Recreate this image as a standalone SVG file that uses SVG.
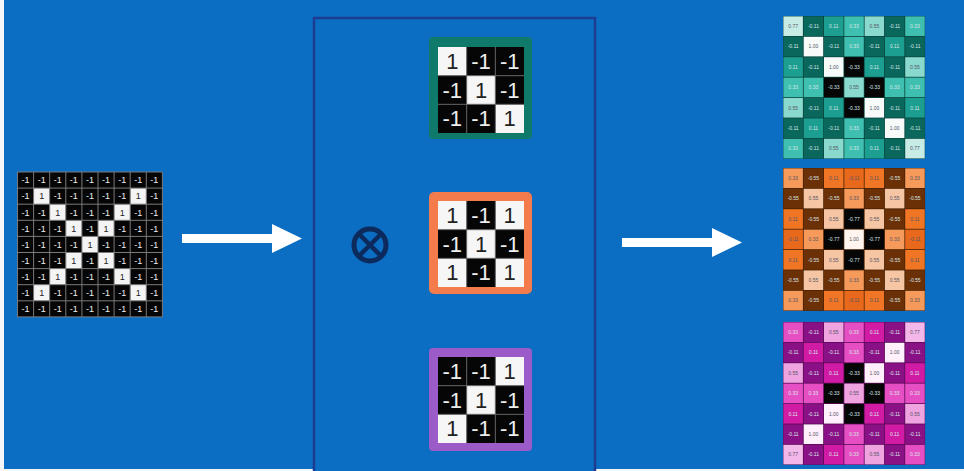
<svg xmlns="http://www.w3.org/2000/svg" width="964" height="471" viewBox="0 0 964 471">
<style>
.ig text{font-family:"Liberation Sans",Arial,sans-serif;font-size:9px;text-anchor:middle}
.w{fill:#eeeeee}.k{fill:#222}
.flt text{font-family:"Liberation Sans",Arial,sans-serif;font-size:22px;text-anchor:middle}
.fm text{font-family:"Liberation Sans",Arial,sans-serif;font-size:5px;text-anchor:middle}
.dt{fill:#556}.lt{fill:#d8e8e8}
.a1{fill:#f6fbfa}.a77{fill:#c7ece6}.a55{fill:#8ad9ce}.a33{fill:#3fbfb0}.a11{fill:#1c9e90}.am11{fill:#0a675c}.am33{fill:#060606}
.b1{fill:#fff5ee}.b55{fill:#f6c6a4}.b33{fill:#f59a5b}.b11{fill:#f07524}.bm11{fill:#e9691c}.bm55{fill:#6b3006}.bm77{fill:#060606}
.c1{fill:#fff0fb}.c77{fill:#f4b7ea}.c55{fill:#efa4e0}.c33{fill:#e64fc3}.c11{fill:#d11ba5}.cm11{fill:#8a1085}.cm33{fill:#060606}
.arrow{fill:#ffffff}
</style>
<rect x="0" y="0" width="964" height="471" fill="#f4f6f8"/>
<rect x="4" y="0" width="960" height="469" fill="#0b6ec2"/>
<rect id="panel" x="314" y="18" width="281" height="470" fill="#0b6ec2" stroke="#1d3d92" stroke-width="2.5"/>

<g id="input" class="ig" transform="translate(17.5,172)">
<rect x="0" y="0" width="144.9" height="144.9" fill="#060606"/>
<g fill="#f4f4f4">
<rect x="16.1" y="16.1" width="16.1" height="16.1"/><rect x="112.7" y="16.1" width="16.1" height="16.1"/>
<rect x="32.2" y="32.2" width="16.1" height="16.1"/><rect x="96.6" y="32.2" width="16.1" height="16.1"/>
<rect x="48.3" y="48.3" width="16.1" height="16.1"/><rect x="80.5" y="48.3" width="16.1" height="16.1"/>
<rect x="64.4" y="64.4" width="16.1" height="16.1"/>
<rect x="48.3" y="80.5" width="16.1" height="16.1"/><rect x="80.5" y="80.5" width="16.1" height="16.1"/>
<rect x="32.2" y="96.6" width="16.1" height="16.1"/><rect x="96.6" y="96.6" width="16.1" height="16.1"/>
<rect x="16.1" y="112.7" width="16.1" height="16.1"/><rect x="112.7" y="112.7" width="16.1" height="16.1"/>
</g>
<path d="M0 0V144.9M16.1 0V144.9M32.2 0V144.9M48.3 0V144.9M64.4 0V144.9M80.5 0V144.9M96.6 0V144.9M112.7 0V144.9M128.8 0V144.9M144.9 0V144.9M0 0H144.9M0 16.1H144.9M0 32.2H144.9M0 48.3H144.9M0 64.4H144.9M0 80.5H144.9M0 96.6H144.9M0 112.7H144.9M0 128.8H144.9M0 144.9H144.9" stroke="#7a7a7a" stroke-width="1" fill="none"/>
<text y="11.3"><tspan class="w" x="8.05">-1</tspan><tspan class="w" x="24.15">-1</tspan><tspan class="w" x="40.25">-1</tspan><tspan class="w" x="56.35">-1</tspan><tspan class="w" x="72.45">-1</tspan><tspan class="w" x="88.55">-1</tspan><tspan class="w" x="104.65">-1</tspan><tspan class="w" x="120.75">-1</tspan><tspan class="w" x="136.85">-1</tspan></text>
<text y="27.4"><tspan class="w" x="8.05">-1</tspan><tspan class="k" x="24.15">1</tspan><tspan class="w" x="40.25">-1</tspan><tspan class="w" x="56.35">-1</tspan><tspan class="w" x="72.45">-1</tspan><tspan class="w" x="88.55">-1</tspan><tspan class="w" x="104.65">-1</tspan><tspan class="k" x="120.75">1</tspan><tspan class="w" x="136.85">-1</tspan></text>
<text y="43.5"><tspan class="w" x="8.05">-1</tspan><tspan class="w" x="24.15">-1</tspan><tspan class="k" x="40.25">1</tspan><tspan class="w" x="56.35">-1</tspan><tspan class="w" x="72.45">-1</tspan><tspan class="w" x="88.55">-1</tspan><tspan class="k" x="104.65">1</tspan><tspan class="w" x="120.75">-1</tspan><tspan class="w" x="136.85">-1</tspan></text>
<text y="59.6"><tspan class="w" x="8.05">-1</tspan><tspan class="w" x="24.15">-1</tspan><tspan class="w" x="40.25">-1</tspan><tspan class="k" x="56.35">1</tspan><tspan class="w" x="72.45">-1</tspan><tspan class="k" x="88.55">1</tspan><tspan class="w" x="104.65">-1</tspan><tspan class="w" x="120.75">-1</tspan><tspan class="w" x="136.85">-1</tspan></text>
<text y="75.7"><tspan class="w" x="8.05">-1</tspan><tspan class="w" x="24.15">-1</tspan><tspan class="w" x="40.25">-1</tspan><tspan class="w" x="56.35">-1</tspan><tspan class="k" x="72.45">1</tspan><tspan class="w" x="88.55">-1</tspan><tspan class="w" x="104.65">-1</tspan><tspan class="w" x="120.75">-1</tspan><tspan class="w" x="136.85">-1</tspan></text>
<text y="91.8"><tspan class="w" x="8.05">-1</tspan><tspan class="w" x="24.15">-1</tspan><tspan class="w" x="40.25">-1</tspan><tspan class="k" x="56.35">1</tspan><tspan class="w" x="72.45">-1</tspan><tspan class="k" x="88.55">1</tspan><tspan class="w" x="104.65">-1</tspan><tspan class="w" x="120.75">-1</tspan><tspan class="w" x="136.85">-1</tspan></text>
<text y="107.9"><tspan class="w" x="8.05">-1</tspan><tspan class="w" x="24.15">-1</tspan><tspan class="k" x="40.25">1</tspan><tspan class="w" x="56.35">-1</tspan><tspan class="w" x="72.45">-1</tspan><tspan class="w" x="88.55">-1</tspan><tspan class="k" x="104.65">1</tspan><tspan class="w" x="120.75">-1</tspan><tspan class="w" x="136.85">-1</tspan></text>
<text y="124"><tspan class="w" x="8.05">-1</tspan><tspan class="k" x="24.15">1</tspan><tspan class="w" x="40.25">-1</tspan><tspan class="w" x="56.35">-1</tspan><tspan class="w" x="72.45">-1</tspan><tspan class="w" x="88.55">-1</tspan><tspan class="w" x="104.65">-1</tspan><tspan class="k" x="120.75">1</tspan><tspan class="w" x="136.85">-1</tspan></text>
<text y="140.1"><tspan class="w" x="8.05">-1</tspan><tspan class="w" x="24.15">-1</tspan><tspan class="w" x="40.25">-1</tspan><tspan class="w" x="56.35">-1</tspan><tspan class="w" x="72.45">-1</tspan><tspan class="w" x="88.55">-1</tspan><tspan class="w" x="104.65">-1</tspan><tspan class="w" x="120.75">-1</tspan><tspan class="w" x="136.85">-1</tspan></text>
</g>

<g id="connectors">
<polygon class="arrow" points="182,234 272,234 272,224 302,238.5 272,253 272,243 182,243"/>
<polygon class="arrow" points="622,238 712,238 712,228 742,242.5 712,257 712,247 622,247"/>
</g>

<g id="convolve-op">
<circle cx="370" cy="245" r="16" fill="none" stroke="#0c2a5c" stroke-width="5"/>
<path d="M359 234L381 256M381 234L359 256" stroke="#0c2a5c" stroke-width="4.5"/>
</g>

<g id="filter-diag" class="flt">
<rect x="429" y="37" width="103" height="102" rx="4" fill="#0f7a6a"/>
<rect x="438" y="47" width="86" height="86" fill="#060606"/>
<rect x="438" y="47" width="28.67" height="28.67" fill="#f6f6f6"/>
<rect x="466.67" y="75.67" width="28.67" height="28.67" fill="#f6f6f6"/>
<rect x="495.33" y="104.33" width="28.67" height="28.67" fill="#f6f6f6"/>
<path d="M466.67 47V133M495.33 47V133M438 75.67H524M438 104.33H524" stroke="#666" stroke-width="1"/>
<text y="69"><tspan class="k" x="452.3">1</tspan><tspan class="w" x="481">-1</tspan><tspan class="w" x="509.7">-1</tspan></text>
<text y="97.7"><tspan class="w" x="452.3">-1</tspan><tspan class="k" x="481">1</tspan><tspan class="w" x="509.7">-1</tspan></text>
<text y="126.4"><tspan class="w" x="452.3">-1</tspan><tspan class="w" x="481">-1</tspan><tspan class="k" x="509.7">1</tspan></text>
</g>

<g id="filter-x" class="flt">
<rect x="429" y="192" width="103" height="102" rx="5" fill="#f37b4c"/>
<rect x="438" y="201" width="86" height="86" fill="#f6f6f6"/>
<rect x="466.67" y="201" width="28.67" height="28.67" fill="#060606"/>
<rect x="438" y="229.67" width="28.67" height="28.67" fill="#060606"/>
<rect x="495.33" y="229.67" width="28.67" height="28.67" fill="#060606"/>
<rect x="466.67" y="258.33" width="28.67" height="28.67" fill="#060606"/>
<path d="M466.67 201V287M495.33 201V287M438 229.67H524M438 258.33H524" stroke="#666" stroke-width="1"/>
<text y="223"><tspan class="k" x="452.3">1</tspan><tspan class="w" x="481">-1</tspan><tspan class="k" x="509.7">1</tspan></text>
<text y="251.7"><tspan class="w" x="452.3">-1</tspan><tspan class="k" x="481">1</tspan><tspan class="w" x="509.7">-1</tspan></text>
<text y="280.4"><tspan class="k" x="452.3">1</tspan><tspan class="w" x="481">-1</tspan><tspan class="k" x="509.7">1</tspan></text>
</g>

<g id="filter-anti" class="flt">
<rect x="429" y="348" width="103" height="103" rx="4" fill="#9b5cc9"/>
<rect x="438" y="357" width="86" height="86" fill="#060606"/>
<rect x="495.33" y="357" width="28.67" height="28.67" fill="#f6f6f6"/>
<rect x="466.67" y="385.67" width="28.67" height="28.67" fill="#f6f6f6"/>
<rect x="438" y="414.33" width="28.67" height="28.67" fill="#f6f6f6"/>
<path d="M466.67 357V443M495.33 357V443M438 385.67H524M438 414.33H524" stroke="#666" stroke-width="1"/>
<text y="379"><tspan class="w" x="452.3">-1</tspan><tspan class="w" x="481">-1</tspan><tspan class="k" x="509.7">1</tspan></text>
<text y="407.7"><tspan class="w" x="452.3">-1</tspan><tspan class="k" x="481">1</tspan><tspan class="w" x="509.7">-1</tspan></text>
<text y="436.4"><tspan class="k" x="452.3">1</tspan><tspan class="w" x="481">-1</tspan><tspan class="w" x="509.7">-1</tspan></text>
</g>

<g id="map-diag" class="fm" transform="translate(783,16)">
<rect x="0" y="0" width="142.1" height="142.8" fill="#08463f"/>
<g transform="translate(0.4,0.4)">
<rect class="a77" x="0" y="0" width="19.5" height="19.6"/><rect class="am11" x="20.3" y="0" width="19.5" height="19.6"/><rect class="a11" x="40.6" y="0" width="19.5" height="19.6"/><rect class="a33" x="60.9" y="0" width="19.5" height="19.6"/><rect class="a55" x="81.2" y="0" width="19.5" height="19.6"/><rect class="am11" x="101.5" y="0" width="19.5" height="19.6"/><rect class="a33" x="121.8" y="0" width="19.5" height="19.6"/>
<rect class="am11" x="0" y="20.4" width="19.5" height="19.6"/><rect class="a1" x="20.3" y="20.4" width="19.5" height="19.6"/><rect class="am11" x="40.6" y="20.4" width="19.5" height="19.6"/><rect class="a33" x="60.9" y="20.4" width="19.5" height="19.6"/><rect class="am11" x="81.2" y="20.4" width="19.5" height="19.6"/><rect class="a11" x="101.5" y="20.4" width="19.5" height="19.6"/><rect class="am11" x="121.8" y="20.4" width="19.5" height="19.6"/>
<rect class="a11" x="0" y="40.8" width="19.5" height="19.6"/><rect class="am11" x="20.3" y="40.8" width="19.5" height="19.6"/><rect class="a1" x="40.6" y="40.8" width="19.5" height="19.6"/><rect class="am33" x="60.9" y="40.8" width="19.5" height="19.6"/><rect class="a11" x="81.2" y="40.8" width="19.5" height="19.6"/><rect class="am11" x="101.5" y="40.8" width="19.5" height="19.6"/><rect class="a55" x="121.8" y="40.8" width="19.5" height="19.6"/>
<rect class="a33" x="0" y="61.2" width="19.5" height="19.6"/><rect class="a33" x="20.3" y="61.2" width="19.5" height="19.6"/><rect class="am33" x="40.6" y="61.2" width="19.5" height="19.6"/><rect class="a55" x="60.9" y="61.2" width="19.5" height="19.6"/><rect class="am33" x="81.2" y="61.2" width="19.5" height="19.6"/><rect class="a33" x="101.5" y="61.2" width="19.5" height="19.6"/><rect class="a33" x="121.8" y="61.2" width="19.5" height="19.6"/>
<rect class="a55" x="0" y="81.6" width="19.5" height="19.6"/><rect class="am11" x="20.3" y="81.6" width="19.5" height="19.6"/><rect class="a11" x="40.6" y="81.6" width="19.5" height="19.6"/><rect class="am33" x="60.9" y="81.6" width="19.5" height="19.6"/><rect class="a1" x="81.2" y="81.6" width="19.5" height="19.6"/><rect class="am11" x="101.5" y="81.6" width="19.5" height="19.6"/><rect class="a11" x="121.8" y="81.6" width="19.5" height="19.6"/>
<rect class="am11" x="0" y="102" width="19.5" height="19.6"/><rect class="a11" x="20.3" y="102" width="19.5" height="19.6"/><rect class="am11" x="40.6" y="102" width="19.5" height="19.6"/><rect class="a33" x="60.9" y="102" width="19.5" height="19.6"/><rect class="am11" x="81.2" y="102" width="19.5" height="19.6"/><rect class="a1" x="101.5" y="102" width="19.5" height="19.6"/><rect class="am11" x="121.8" y="102" width="19.5" height="19.6"/>
<rect class="a33" x="0" y="122.4" width="19.5" height="19.6"/><rect class="am11" x="20.3" y="122.4" width="19.5" height="19.6"/><rect class="a55" x="40.6" y="122.4" width="19.5" height="19.6"/><rect class="a33" x="60.9" y="122.4" width="19.5" height="19.6"/><rect class="a11" x="81.2" y="122.4" width="19.5" height="19.6"/><rect class="am11" x="101.5" y="122.4" width="19.5" height="19.6"/><rect class="a77" x="121.8" y="122.4" width="19.5" height="19.6"/>
</g>
<text y="12"><tspan class="dt" x="10.15">0.77</tspan><tspan class="lt" x="30.45">-0.11</tspan><tspan class="lt" x="50.75">0.11</tspan><tspan class="lt" x="71.05">0.33</tspan><tspan class="dt" x="91.35">0.55</tspan><tspan class="lt" x="111.65">-0.11</tspan><tspan class="lt" x="131.95">0.33</tspan></text>
<text y="32.4"><tspan class="lt" x="10.15">-0.11</tspan><tspan class="dt" x="30.45">1.00</tspan><tspan class="lt" x="50.75">-0.11</tspan><tspan class="lt" x="71.05">0.33</tspan><tspan class="lt" x="91.35">-0.11</tspan><tspan class="lt" x="111.65">0.11</tspan><tspan class="lt" x="131.95">-0.11</tspan></text>
<text y="52.8"><tspan class="lt" x="10.15">0.11</tspan><tspan class="lt" x="30.45">-0.11</tspan><tspan class="dt" x="50.75">1.00</tspan><tspan class="lt" x="71.05">-0.33</tspan><tspan class="lt" x="91.35">0.11</tspan><tspan class="lt" x="111.65">-0.11</tspan><tspan class="dt" x="131.95">0.55</tspan></text>
<text y="73.2"><tspan class="lt" x="10.15">0.33</tspan><tspan class="lt" x="30.45">0.33</tspan><tspan class="lt" x="50.75">-0.33</tspan><tspan class="dt" x="71.05">0.55</tspan><tspan class="lt" x="91.35">-0.33</tspan><tspan class="lt" x="111.65">0.33</tspan><tspan class="lt" x="131.95">0.33</tspan></text>
<text y="93.6"><tspan class="dt" x="10.15">0.55</tspan><tspan class="lt" x="30.45">-0.11</tspan><tspan class="lt" x="50.75">0.11</tspan><tspan class="lt" x="71.05">-0.33</tspan><tspan class="dt" x="91.35">1.00</tspan><tspan class="lt" x="111.65">-0.11</tspan><tspan class="lt" x="131.95">0.11</tspan></text>
<text y="114"><tspan class="lt" x="10.15">-0.11</tspan><tspan class="lt" x="30.45">0.11</tspan><tspan class="lt" x="50.75">-0.11</tspan><tspan class="lt" x="71.05">0.33</tspan><tspan class="lt" x="91.35">-0.11</tspan><tspan class="dt" x="111.65">1.00</tspan><tspan class="lt" x="131.95">-0.11</tspan></text>
<text y="134.4"><tspan class="lt" x="10.15">0.33</tspan><tspan class="lt" x="30.45">-0.11</tspan><tspan class="dt" x="50.75">0.55</tspan><tspan class="lt" x="71.05">0.33</tspan><tspan class="lt" x="91.35">0.11</tspan><tspan class="lt" x="111.65">-0.11</tspan><tspan class="dt" x="131.95">0.77</tspan></text>
</g>

<g id="map-x" class="fm" transform="translate(783,168)">
<rect x="0" y="0" width="142.1" height="142.8" fill="#4a2204"/>
<g transform="translate(0.4,0.4)">
<rect class="b33" x="0" y="0" width="19.5" height="19.6"/><rect class="bm55" x="20.3" y="0" width="19.5" height="19.6"/><rect class="b11" x="40.6" y="0" width="19.5" height="19.6"/><rect class="bm11" x="60.9" y="0" width="19.5" height="19.6"/><rect class="b11" x="81.2" y="0" width="19.5" height="19.6"/><rect class="bm55" x="101.5" y="0" width="19.5" height="19.6"/><rect class="b33" x="121.8" y="0" width="19.5" height="19.6"/>
<rect class="bm55" x="0" y="20.4" width="19.5" height="19.6"/><rect class="b55" x="20.3" y="20.4" width="19.5" height="19.6"/><rect class="bm55" x="40.6" y="20.4" width="19.5" height="19.6"/><rect class="b33" x="60.9" y="20.4" width="19.5" height="19.6"/><rect class="bm55" x="81.2" y="20.4" width="19.5" height="19.6"/><rect class="b55" x="101.5" y="20.4" width="19.5" height="19.6"/><rect class="bm55" x="121.8" y="20.4" width="19.5" height="19.6"/>
<rect class="b11" x="0" y="40.8" width="19.5" height="19.6"/><rect class="bm55" x="20.3" y="40.8" width="19.5" height="19.6"/><rect class="b55" x="40.6" y="40.8" width="19.5" height="19.6"/><rect class="bm77" x="60.9" y="40.8" width="19.5" height="19.6"/><rect class="b55" x="81.2" y="40.8" width="19.5" height="19.6"/><rect class="bm55" x="101.5" y="40.8" width="19.5" height="19.6"/><rect class="b11" x="121.8" y="40.8" width="19.5" height="19.6"/>
<rect class="bm11" x="0" y="61.2" width="19.5" height="19.6"/><rect class="b33" x="20.3" y="61.2" width="19.5" height="19.6"/><rect class="bm77" x="40.6" y="61.2" width="19.5" height="19.6"/><rect class="b1" x="60.9" y="61.2" width="19.5" height="19.6"/><rect class="bm77" x="81.2" y="61.2" width="19.5" height="19.6"/><rect class="b33" x="101.5" y="61.2" width="19.5" height="19.6"/><rect class="bm11" x="121.8" y="61.2" width="19.5" height="19.6"/>
<rect class="b11" x="0" y="81.6" width="19.5" height="19.6"/><rect class="bm55" x="20.3" y="81.6" width="19.5" height="19.6"/><rect class="b55" x="40.6" y="81.6" width="19.5" height="19.6"/><rect class="bm77" x="60.9" y="81.6" width="19.5" height="19.6"/><rect class="b55" x="81.2" y="81.6" width="19.5" height="19.6"/><rect class="bm55" x="101.5" y="81.6" width="19.5" height="19.6"/><rect class="b11" x="121.8" y="81.6" width="19.5" height="19.6"/>
<rect class="bm55" x="0" y="102" width="19.5" height="19.6"/><rect class="b55" x="20.3" y="102" width="19.5" height="19.6"/><rect class="bm55" x="40.6" y="102" width="19.5" height="19.6"/><rect class="b33" x="60.9" y="102" width="19.5" height="19.6"/><rect class="bm55" x="81.2" y="102" width="19.5" height="19.6"/><rect class="b55" x="101.5" y="102" width="19.5" height="19.6"/><rect class="bm55" x="121.8" y="102" width="19.5" height="19.6"/>
<rect class="b33" x="0" y="122.4" width="19.5" height="19.6"/><rect class="bm55" x="20.3" y="122.4" width="19.5" height="19.6"/><rect class="b11" x="40.6" y="122.4" width="19.5" height="19.6"/><rect class="bm11" x="60.9" y="122.4" width="19.5" height="19.6"/><rect class="b11" x="81.2" y="122.4" width="19.5" height="19.6"/><rect class="bm55" x="101.5" y="122.4" width="19.5" height="19.6"/><rect class="b33" x="121.8" y="122.4" width="19.5" height="19.6"/>
</g>
<text y="12"><tspan class="dt" x="10.15">0.33</tspan><tspan class="lt" x="30.45">-0.55</tspan><tspan class="dt" x="50.75">0.11</tspan><tspan class="dt" x="71.05">-0.11</tspan><tspan class="dt" x="91.35">0.11</tspan><tspan class="lt" x="111.65">-0.55</tspan><tspan class="dt" x="131.95">0.33</tspan></text>
<text y="32.4"><tspan class="lt" x="10.15">-0.55</tspan><tspan class="dt" x="30.45">0.55</tspan><tspan class="lt" x="50.75">-0.55</tspan><tspan class="dt" x="71.05">0.33</tspan><tspan class="lt" x="91.35">-0.55</tspan><tspan class="dt" x="111.65">0.55</tspan><tspan class="lt" x="131.95">-0.55</tspan></text>
<text y="52.8"><tspan class="dt" x="10.15">0.11</tspan><tspan class="lt" x="30.45">-0.55</tspan><tspan class="dt" x="50.75">0.55</tspan><tspan class="lt" x="71.05">-0.77</tspan><tspan class="dt" x="91.35">0.55</tspan><tspan class="lt" x="111.65">-0.55</tspan><tspan class="dt" x="131.95">0.11</tspan></text>
<text y="73.2"><tspan class="dt" x="10.15">-0.11</tspan><tspan class="dt" x="30.45">0.33</tspan><tspan class="lt" x="50.75">-0.77</tspan><tspan class="dt" x="71.05">1.00</tspan><tspan class="lt" x="91.35">-0.77</tspan><tspan class="dt" x="111.65">0.33</tspan><tspan class="dt" x="131.95">-0.11</tspan></text>
<text y="93.6"><tspan class="dt" x="10.15">0.11</tspan><tspan class="lt" x="30.45">-0.55</tspan><tspan class="dt" x="50.75">0.55</tspan><tspan class="lt" x="71.05">-0.77</tspan><tspan class="dt" x="91.35">0.55</tspan><tspan class="lt" x="111.65">-0.55</tspan><tspan class="dt" x="131.95">0.11</tspan></text>
<text y="114"><tspan class="lt" x="10.15">-0.55</tspan><tspan class="dt" x="30.45">0.55</tspan><tspan class="lt" x="50.75">-0.55</tspan><tspan class="dt" x="71.05">0.33</tspan><tspan class="lt" x="91.35">-0.55</tspan><tspan class="dt" x="111.65">0.55</tspan><tspan class="lt" x="131.95">-0.55</tspan></text>
<text y="134.4"><tspan class="dt" x="10.15">0.33</tspan><tspan class="lt" x="30.45">-0.55</tspan><tspan class="dt" x="50.75">0.11</tspan><tspan class="dt" x="71.05">-0.11</tspan><tspan class="dt" x="91.35">0.11</tspan><tspan class="lt" x="111.65">-0.55</tspan><tspan class="dt" x="131.95">0.33</tspan></text>
</g>

<g id="map-anti" class="fm" transform="translate(783,322)">
<rect x="0" y="0" width="142.1" height="142.8" fill="#5a0a57"/>
<g transform="translate(0.4,0.4)">
<rect class="c33" x="0" y="0" width="19.5" height="19.6"/><rect class="cm11" x="20.3" y="0" width="19.5" height="19.6"/><rect class="c55" x="40.6" y="0" width="19.5" height="19.6"/><rect class="c33" x="60.9" y="0" width="19.5" height="19.6"/><rect class="c11" x="81.2" y="0" width="19.5" height="19.6"/><rect class="cm11" x="101.5" y="0" width="19.5" height="19.6"/><rect class="c77" x="121.8" y="0" width="19.5" height="19.6"/>
<rect class="cm11" x="0" y="20.4" width="19.5" height="19.6"/><rect class="c11" x="20.3" y="20.4" width="19.5" height="19.6"/><rect class="cm11" x="40.6" y="20.4" width="19.5" height="19.6"/><rect class="c33" x="60.9" y="20.4" width="19.5" height="19.6"/><rect class="cm11" x="81.2" y="20.4" width="19.5" height="19.6"/><rect class="c1" x="101.5" y="20.4" width="19.5" height="19.6"/><rect class="cm11" x="121.8" y="20.4" width="19.5" height="19.6"/>
<rect class="c55" x="0" y="40.8" width="19.5" height="19.6"/><rect class="cm11" x="20.3" y="40.8" width="19.5" height="19.6"/><rect class="c11" x="40.6" y="40.8" width="19.5" height="19.6"/><rect class="cm33" x="60.9" y="40.8" width="19.5" height="19.6"/><rect class="c1" x="81.2" y="40.8" width="19.5" height="19.6"/><rect class="cm11" x="101.5" y="40.8" width="19.5" height="19.6"/><rect class="c11" x="121.8" y="40.8" width="19.5" height="19.6"/>
<rect class="c33" x="0" y="61.2" width="19.5" height="19.6"/><rect class="c33" x="20.3" y="61.2" width="19.5" height="19.6"/><rect class="cm33" x="40.6" y="61.2" width="19.5" height="19.6"/><rect class="c55" x="60.9" y="61.2" width="19.5" height="19.6"/><rect class="cm33" x="81.2" y="61.2" width="19.5" height="19.6"/><rect class="c33" x="101.5" y="61.2" width="19.5" height="19.6"/><rect class="c33" x="121.8" y="61.2" width="19.5" height="19.6"/>
<rect class="c11" x="0" y="81.6" width="19.5" height="19.6"/><rect class="cm11" x="20.3" y="81.6" width="19.5" height="19.6"/><rect class="c1" x="40.6" y="81.6" width="19.5" height="19.6"/><rect class="cm33" x="60.9" y="81.6" width="19.5" height="19.6"/><rect class="c11" x="81.2" y="81.6" width="19.5" height="19.6"/><rect class="cm11" x="101.5" y="81.6" width="19.5" height="19.6"/><rect class="c55" x="121.8" y="81.6" width="19.5" height="19.6"/>
<rect class="cm11" x="0" y="102" width="19.5" height="19.6"/><rect class="c1" x="20.3" y="102" width="19.5" height="19.6"/><rect class="cm11" x="40.6" y="102" width="19.5" height="19.6"/><rect class="c33" x="60.9" y="102" width="19.5" height="19.6"/><rect class="cm11" x="81.2" y="102" width="19.5" height="19.6"/><rect class="c11" x="101.5" y="102" width="19.5" height="19.6"/><rect class="cm11" x="121.8" y="102" width="19.5" height="19.6"/>
<rect class="c77" x="0" y="122.4" width="19.5" height="19.6"/><rect class="cm11" x="20.3" y="122.4" width="19.5" height="19.6"/><rect class="c11" x="40.6" y="122.4" width="19.5" height="19.6"/><rect class="c33" x="60.9" y="122.4" width="19.5" height="19.6"/><rect class="c55" x="81.2" y="122.4" width="19.5" height="19.6"/><rect class="cm11" x="101.5" y="122.4" width="19.5" height="19.6"/><rect class="c33" x="121.8" y="122.4" width="19.5" height="19.6"/>
</g>
<text y="12"><tspan class="lt" x="10.15">0.33</tspan><tspan class="lt" x="30.45">-0.11</tspan><tspan class="dt" x="50.75">0.55</tspan><tspan class="lt" x="71.05">0.33</tspan><tspan class="lt" x="91.35">0.11</tspan><tspan class="lt" x="111.65">-0.11</tspan><tspan class="dt" x="131.95">0.77</tspan></text>
<text y="32.4"><tspan class="lt" x="10.15">-0.11</tspan><tspan class="lt" x="30.45">0.11</tspan><tspan class="lt" x="50.75">-0.11</tspan><tspan class="lt" x="71.05">0.33</tspan><tspan class="lt" x="91.35">-0.11</tspan><tspan class="dt" x="111.65">1.00</tspan><tspan class="lt" x="131.95">-0.11</tspan></text>
<text y="52.8"><tspan class="dt" x="10.15">0.55</tspan><tspan class="lt" x="30.45">-0.11</tspan><tspan class="lt" x="50.75">0.11</tspan><tspan class="lt" x="71.05">-0.33</tspan><tspan class="dt" x="91.35">1.00</tspan><tspan class="lt" x="111.65">-0.11</tspan><tspan class="lt" x="131.95">0.11</tspan></text>
<text y="73.2"><tspan class="lt" x="10.15">0.33</tspan><tspan class="lt" x="30.45">0.33</tspan><tspan class="lt" x="50.75">-0.33</tspan><tspan class="dt" x="71.05">0.55</tspan><tspan class="lt" x="91.35">-0.33</tspan><tspan class="lt" x="111.65">0.33</tspan><tspan class="lt" x="131.95">0.33</tspan></text>
<text y="93.6"><tspan class="lt" x="10.15">0.11</tspan><tspan class="lt" x="30.45">-0.11</tspan><tspan class="dt" x="50.75">1.00</tspan><tspan class="lt" x="71.05">-0.33</tspan><tspan class="lt" x="91.35">0.11</tspan><tspan class="lt" x="111.65">-0.11</tspan><tspan class="dt" x="131.95">0.55</tspan></text>
<text y="114"><tspan class="lt" x="10.15">-0.11</tspan><tspan class="dt" x="30.45">1.00</tspan><tspan class="lt" x="50.75">-0.11</tspan><tspan class="lt" x="71.05">0.33</tspan><tspan class="lt" x="91.35">-0.11</tspan><tspan class="lt" x="111.65">0.11</tspan><tspan class="lt" x="131.95">-0.11</tspan></text>
<text y="134.4"><tspan class="dt" x="10.15">0.77</tspan><tspan class="lt" x="30.45">-0.11</tspan><tspan class="lt" x="50.75">0.11</tspan><tspan class="lt" x="71.05">0.33</tspan><tspan class="dt" x="91.35">0.55</tspan><tspan class="lt" x="111.65">-0.11</tspan><tspan class="lt" x="131.95">0.33</tspan></text>
</g>
</svg>
